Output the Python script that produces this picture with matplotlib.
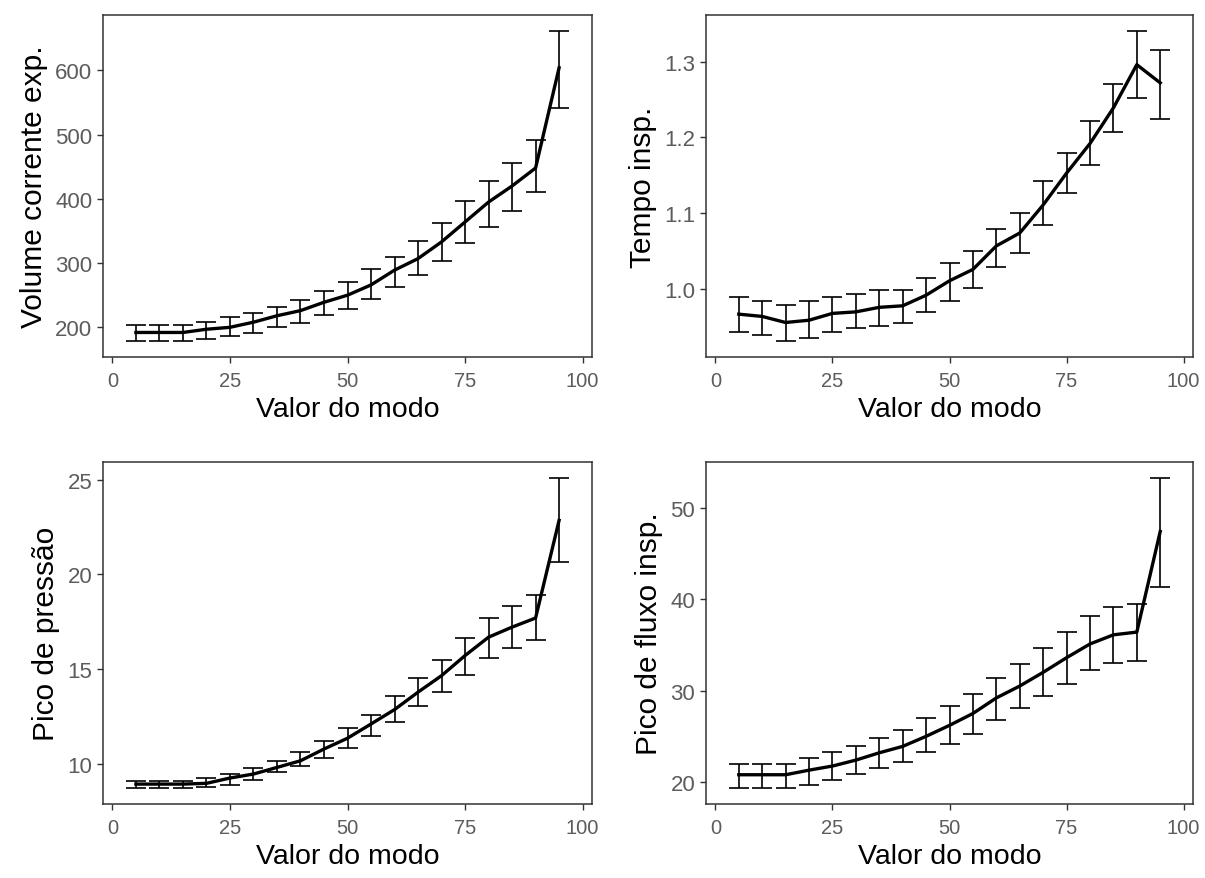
import numpy as np
import matplotlib.pyplot as plt

plt.rcParams['font.family'] = ['Liberation Sans', 'DejaVu Sans']

modo = [5, 10, 15, 20, 25, 30, 35, 40, 45, 50, 55, 60, 65, 70, 75, 80, 85, 90, 95]

# volume corrente expirado
vol = [192, 192, 192, 197, 200, 208, 218, 226, 239, 250, 266, 289, 307, 333, 364, 395, 420, 448, 604]
vol_hi = [203, 203, 203, 209, 216, 222, 231, 243, 256, 271, 291, 309, 334, 362, 397, 428, 456, 491, 662]
vol_lo = [178, 178, 178, 182, 187, 191, 200, 207, 219, 229, 244, 263, 282, 303, 331, 356, 381, 410, 541]

# tempo inspiratorio
tins = [0.967, 0.964, 0.956, 0.959, 0.968, 0.970, 0.976, 0.978, 0.992, 1.011, 1.026, 1.057, 1.074,
        1.111, 1.153, 1.192, 1.239, 1.296, 1.272]
tins_hi = [0.990, 0.984, 0.979, 0.984, 0.989, 0.994, 0.999, 0.999, 1.015, 1.034, 1.050, 1.079, 1.101,
           1.143, 1.180, 1.222, 1.270, 1.341, 1.315]
tins_lo = [0.944, 0.939, 0.931, 0.936, 0.944, 0.949, 0.952, 0.955, 0.970, 0.984, 1.002, 1.029, 1.047,
           1.085, 1.127, 1.164, 1.207, 1.252, 1.225]

# pico de pressao
ppk = [8.94, 8.94, 8.94, 8.98, 9.26, 9.47, 9.82, 10.17, 10.79, 11.36, 12.11, 12.87, 13.79, 14.66,
       15.72, 16.69, 17.22, 17.70, 22.85]
ppk_hi = [9.12, 9.12, 9.12, 9.24, 9.47, 9.77, 10.17, 10.62, 11.23, 11.89, 12.60, 13.58, 14.53, 15.46,
          16.64, 17.70, 18.33, 18.89, 25.11]
ppk_lo = [8.71, 8.71, 8.71, 8.77, 8.91, 9.15, 9.56, 9.88, 10.30, 10.83, 11.46, 12.20, 13.05, 13.79,
          14.72, 15.58, 16.11, 16.55, 20.65]

# pico de fluxo inspiratorio
pfl = [20.8, 20.8, 20.8, 21.3, 21.75, 22.4, 23.2, 23.9, 25.0, 26.2, 27.5, 29.2, 30.5, 32.0, 33.6,
       35.1, 36.1, 36.4, 47.4]
pfl_hi = [22.0, 22.0, 22.0, 22.6, 23.3, 23.9, 24.8, 25.65, 27.0, 28.3, 29.6, 31.4, 32.9, 34.7, 36.4,
          38.2, 39.1, 39.5, 53.3]
pfl_lo = [19.3, 19.3, 19.3, 19.7, 20.2, 20.9, 21.5, 22.2, 23.3, 24.2, 25.3, 26.8, 28.1, 29.4, 30.7,
          32.3, 33.0, 33.2, 41.3]

paineis = [
    (vol, vol_lo, vol_hi, 'Volume corrente exp.', [200, 300, 400, 500, 600], '%d'),
    (tins, tins_lo, tins_hi, 'Tempo insp.', [1.0, 1.1, 1.2, 1.3], '%.1f'),
    (ppk, ppk_lo, ppk_hi, 'Pico de pressão', [10, 15, 20, 25], '%d'),
    (pfl, pfl_lo, pfl_hi, 'Pico de fluxo insp.', [20, 30, 40, 50], '%d'),
]

W, H = 1205, 879
fig = plt.figure(figsize=(W / 100, H / 100), dpi=100)

# posicoes dos paineis em pixels (esq, topo, dir, base)
caixas = [(103, 16, 592, 358), (706, 16, 1193, 358),
          (103, 463, 592, 805), (706, 463, 1193, 805)]

for (y, lo, hi, nome, yt, fmt), (l, t, r, b) in zip(paineis, caixas):
    ax = fig.add_axes([l / W, 1 - b / H, (r - l) / W, (b - t) / H])
    y = np.array(y)
    lo = np.array(lo)
    hi = np.array(hi)
    ax.errorbar(modo, y, yerr=[y - lo, hi - y], fmt='none', ecolor='black',
                elinewidth=1.2, capsize=7.5, capthick=1.2)
    ax.plot(modo, y, color='black', lw=2.4)
    ax.set_xlim(-2, 102)
    rng = max(hi) - min(lo)
    ax.set_ylim(min(lo) - 0.05 * rng, max(hi) + 0.05 * rng)
    ax.set_xticks([0, 25, 50, 75, 100])
    ax.set_yticks(yt)
    ax.yaxis.set_major_formatter(plt.FormatStrFormatter(fmt))
    ax.tick_params(direction='out', length=4.3, width=1, color='#333333',
                   labelcolor='#5c5c5c')
    ax.tick_params(axis='x', labelsize=14.5, pad=6)
    ax.tick_params(axis='y', labelsize=16, pad=3.5)
    for s in ax.spines.values():
        s.set_color('#333333')
        s.set_linewidth(1.1)
    ax.set_xlabel('Valor do modo', fontsize=20.5, labelpad=4)
    ax.set_ylabel(nome, fontsize=21.5, labelpad=5)

fig.savefig('out.png', dpi=100)
